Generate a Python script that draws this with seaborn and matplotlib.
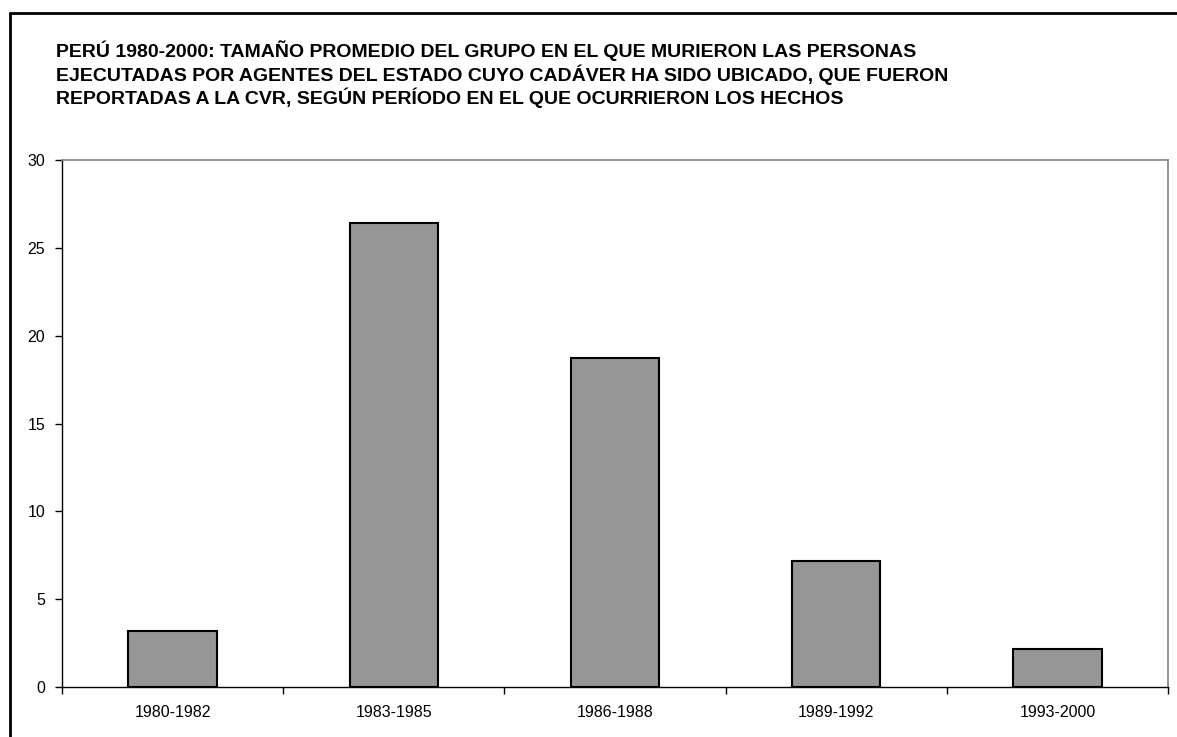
import matplotlib
matplotlib.use("Agg")
import matplotlib.pyplot as plt
import seaborn as sns
import pandas as pd
from matplotlib.lines import Line2D

categories = ["1980-1982", "1983-1985", "1986-1988", "1989-1992", "1993-2000"]
values = [3.2, 26.4, 18.75, 7.2, 2.15]
yticks = [0, 5, 10, 15, 20, 25, 30]
title = ("PERÚ 1980-2000: TAMAÑO PROMEDIO DEL GRUPO EN EL QUE MURIERON LAS PERSONAS\n"
         "EJECUTADAS POR AGENTES DEL ESTADO CUYO CADÁVER HA SIDO UBICADO, QUE FUERON\n"
         "REPORTADAS A LA CVR, SEGÚN PERÍODO EN EL QUE OCURRIERON LOS HECHOS")

sns.set_style("white")
plt.rcParams['font.family'] = ['Liberation Sans', 'DejaVu Sans']
plt.rcParams['text.color'] = 'black'
plt.rcParams['xtick.color'] = 'black'
plt.rcParams['ytick.color'] = 'black'
plt.rcParams['axes.labelcolor'] = 'black'

W, H = 1177, 737
fig = plt.figure(figsize=(W / 100, H / 100), dpi=100)
ax = fig.add_axes([62 / W, (H - 687) / H, (1168 - 62) / W, (687 - 160) / H])

df = pd.DataFrame({"periodo": categories, "valor": values})
sns.barplot(data=df, x="periodo", y="valor", ax=ax, color="#969696",
            saturation=1, width=0.4, edgecolor="black", linewidth=1.5)

ax.set_xlim(-0.5, len(categories) - 0.5)
ax.set_ylim(0, 30)
ax.set_yticks(yticks)
ax.set_yticklabels([str(v) for v in yticks], fontsize=11.5, color="black")
ax.set_xticks(range(len(categories)))
ax.set_xticklabels(categories, fontsize=11.5, color="black")
ax.tick_params(axis="x", which="major", bottom=True, length=0, pad=13)
ax.set_xticks([i - 0.5 for i in range(len(categories) + 1)], minor=True)
ax.tick_params(axis="x", which="minor", bottom=True, length=5, width=1,
               color="black", direction="out")
ax.tick_params(axis="y", which="major", left=True, length=5, width=1,
               color="black", direction="out", pad=7)
ax.set_xlabel("")
ax.set_ylabel("")

for s in ["left", "bottom"]:
    ax.spines[s].set_color("black")
    ax.spines[s].set_linewidth(1)
for s in ["top", "right"]:
    ax.spines[s].set_color("#808080")
    ax.spines[s].set_linewidth(1.2)
    ax.spines[s].set_visible(True)

fig.text(56 / W, 1 - 40 / H, title, ha="left", va="top", fontsize=14,
         fontweight="bold", linespacing=1.2, color="black")

# outer frame (top and left edges visible)
fig.add_artist(Line2D([9.7 / W, 1.0], [1 - 12.7 / H, 1 - 12.7 / H],
                      transform=fig.transFigure, color="black", linewidth=2))
fig.add_artist(Line2D([9.7 / W, 9.7 / W], [0.0, 1 - 12.7 / H],
                      transform=fig.transFigure, color="black", linewidth=2))

fig.savefig("out.png", dpi=100)
